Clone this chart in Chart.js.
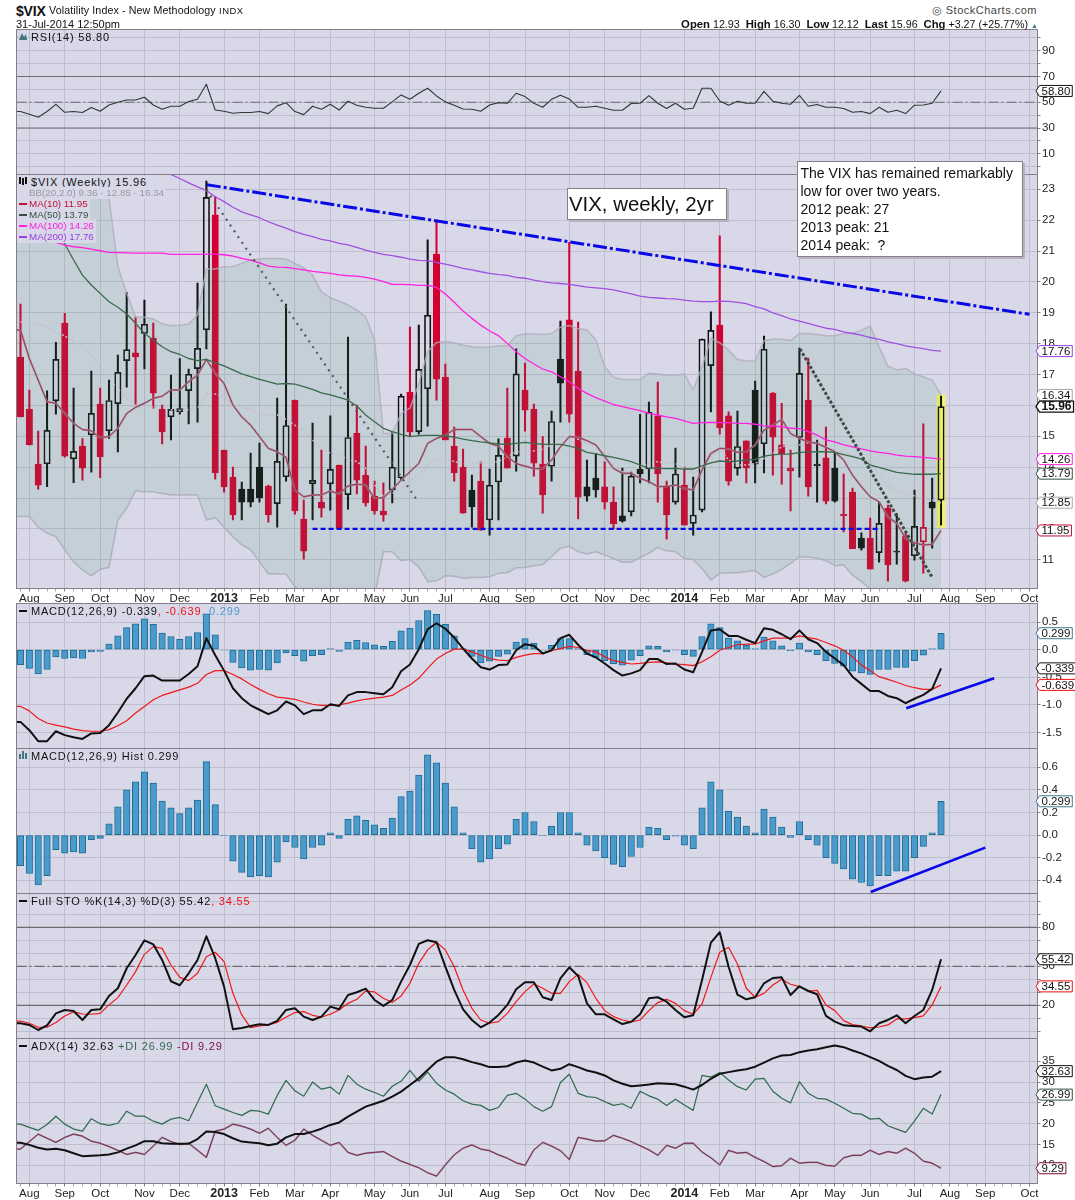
<!DOCTYPE html>
<html>
<head>
<meta charset="utf-8">
<title>$VIX weekly</title>
<script src="https://cdn.jsdelivr.net/npm/chart.js@4"></script>
<style>
html, body { margin: 0; padding: 0; background: #fff; }
#page { position: relative; width: 1075px; height: 1200px; overflow: hidden; font-family: "Liberation Sans", Arial, sans-serif; color: #111; }
canvas { position: absolute; left: 0; }
.txt { position: absolute; white-space: nowrap; font-size: 11px; letter-spacing: .8px; line-height: 12px; z-index: 5; }
.ma { font-size: 9.8px; letter-spacing: 0; background: #d8d8e8; padding-right: 2px; }
.sw { position: absolute; left: 19px; width: 8px; height: 2px; z-index: 6; }
.note { position: absolute; background: #fff; border: 1px solid #8a7c8a; box-shadow: 2px 2px 0 #b4b4c0; z-index: 6; box-sizing: border-box; }
</style>
</head>
<body>
<div id="page">
  <div class="txt" style="left:16px;top:3px;font-size:14px;line-height:16px;font-weight:bold;letter-spacing:-.2px">$VIX</div>
  <div class="txt" style="left:49px;top:4px;font-size:10.7px;line-height:13px;letter-spacing:.1px">Volatility Index - New Methodology</div>
  <div class="txt" style="left:219px;top:5px;font-size:9.5px;letter-spacing:.5px">INDX</div>
  <div class="txt" style="left:16px;top:18px;letter-spacing:0">31-Jul-2014 12:50pm</div>
  <div class="txt" style="right:38px;top:4px;color:#444;font-size:11px;letter-spacing:.5px">&#9678; StockCharts.com</div>
  <div class="txt" style="right:37px;top:18px;letter-spacing:0;font-size:10.7px"><b style="font-size:11.3px">Open</b> 12.93 &nbsp;<b style="font-size:11.3px">High</b> 16.30 &nbsp;<b style="font-size:11.3px">Low</b> 12.12 &nbsp;<b style="font-size:11.3px">Last</b> 15.96 &nbsp;<b style="font-size:11.3px">Chg</b> +3.27 (+25.77%) <span style="color:#3a7a8a;font-size:7px">&#9650;</span></div>

  <svg style="position:absolute;left:19px;top:31px;z-index:5" width="9" height="10"><path d="M0 9 L3 2 L5 6 L7 3 L8 9 Z" fill="#3f7780"/></svg>
  <div class="txt" style="left:31px;top:31px">RSI(14) 58.80</div>

  <svg style="position:absolute;left:19px;top:176px;z-index:6" width="9" height="10"><path d="M1 1V8M4 2V9M7 1V8" stroke="#111" stroke-width="2"/></svg>
  <div class="txt" style="left:17px;top:176px;background:#d8d8e8;padding-left:14px">$VIX (Weekly) 15.96</div>
  <div class="txt ma" style="left:17px;top:187px;color:#9a9aa4;padding-left:12px">BB(20,2.0) 9.36 - 12.85 - 16.34</div>
  <div class="sw" style="top:203px;background:#c4103a"></div>
  <div class="txt ma" style="left:17px;top:198px;color:#c4103a;padding-left:12px">MA(10) 11.95</div>
  <div class="sw" style="top:214px;background:#33503f"></div>
  <div class="txt ma" style="left:17px;top:209px;color:#33503f;padding-left:12px">MA(50) 13.79</div>
  <div class="sw" style="top:225px;background:#ff20e0"></div>
  <div class="txt ma" style="left:17px;top:220px;color:#ff20e0;padding-left:12px">MA(100) 14.26</div>
  <div class="sw" style="top:236px;background:#9a40e0"></div>
  <div class="txt ma" style="left:17px;top:231px;color:#9a40e0;padding-left:12px">MA(200) 17.76</div>

  <div class="sw" style="top:610px;background:#111"></div>
  <div class="txt" style="left:31px;top:605px">MACD(12,26,9) -0.339<span style="color:#f01010">, -0.639</span><span style="color:#4a9bcb">, 0.299</span></div>

  <svg style="position:absolute;left:19px;top:750px;z-index:5" width="9" height="10"><path d="M1 9V4M4 9V1M7 9V3" stroke="#3f7780" stroke-width="2"/></svg>
  <div class="txt" style="left:31px;top:750px">MACD(12,26,9) Hist 0.299</div>

  <div class="sw" style="top:900px;background:#111"></div>
  <div class="txt" style="left:31px;top:895px">Full STO %K(14,3) %D(3) 55.42<span style="color:#f01010">, 34.55</span></div>

  <div class="sw" style="top:1045px;background:#111"></div>
  <div class="txt" style="left:31px;top:1040px">ADX(14) 32.63 <span style="color:#2f6a4c">+DI 26.99</span> <span style="color:#7a0a3a">-DI 9.29</span></div>

  <div class="note" style="left:567px;top:188px;width:160px;height:32px;font-size:20.4px;line-height:30px;padding-left:1px">VIX, weekly, 2yr</div>
  <div class="note" style="left:797px;top:161px;width:226px;height:96px;font-size:14px;line-height:18px;padding:2px 0 0 2.5px">The VIX has remained remarkably<br>low for over two years.<br>2012 peak: 27<br>2013 peak: 21<br>2014 peak: &nbsp;?</div>
</div>

<script>
// x axis: one bar a week, month gridlines sit on these weeks
const monthTicks = [1, 5, 9, 14, 18, 23, 27, 31, 35, 40, 44, 48, 53, 57, 62, 66, 70, 75, 79, 83, 88, 92, 96, 101, 105, 109, 114];
const monthLabels = ['Aug', 'Sep', 'Oct', 'Nov', 'Dec', '2013', 'Feb', 'Mar', 'Apr', 'May', 'Jun', 'Jul', 'Aug', 'Sep', 'Oct', 'Nov', 'Dec', '2014', 'Feb', 'Mar', 'Apr', 'May', 'Jun', 'Jul', 'Aug', 'Sep', 'Oct'];

// candles
const wickHigh = [
  19.28, 16.50, 15.17, 16.47, 18.04, 18.98, 16.56, 14.93, 17.11, 16.56,
  16.82, 17.63, 19.66, 18.86, 19.41, 18.67, 16.01, 16.98, 17.52, 17.18,
  19.96, 23.27, 22.76, 14.55, 14.00, 13.52, 14.46, 14.78, 13.42, 16.24,
  19.28, 16.17, 12.93, 15.43, 14.55, 15.66, 14.07, 18.21, 16.01, 14.68,
  13.55, 13.49, 15.14, 16.37, 18.54, 18.60, 21.36, 22.00, 17.34, 15.30,
  14.59, 13.74, 14.17, 13.94, 14.92, 16.56, 17.83, 17.37, 16.04, 14.99,
  15.82, 18.73, 21.28, 18.70, 14.23, 14.44, 14.17, 13.36, 13.97, 13.84,
  15.71, 16.11, 16.76, 13.55, 14.62, 14.00, 13.68, 18.15, 19.03, 21.49,
  15.79, 15.82, 14.85, 16.79, 18.25, 16.42, 16.07, 14.55, 17.86, 17.53,
  14.88, 15.30, 14.49, 13.78, 13.32, 11.87, 12.35, 12.87, 12.77, 12.50,
  11.86, 13.26, 15.40, 13.65, 16.30
];
const wickLow = [
  15.63, 14.72, 13.29, 13.37, 15.72, 14.32, 13.50, 13.58, 13.84, 13.66,
  14.93, 14.49, 16.59, 16.04, 17.18, 15.91, 14.75, 14.88, 15.72, 15.40,
  15.46, 17.83, 13.61, 13.19, 12.29, 12.29, 12.71, 12.87, 12.22, 12.06,
  13.55, 12.48, 11.02, 12.29, 12.38, 12.61, 11.99, 12.64, 13.13, 12.74,
  12.48, 12.25, 12.84, 13.58, 15.01, 15.07, 15.33, 16.17, 14.88, 13.55,
  12.51, 12.06, 11.96, 11.80, 12.29, 13.97, 13.87, 15.17, 13.71, 12.51,
  13.55, 15.46, 15.46, 12.32, 12.90, 13.03, 12.64, 11.99, 12.22, 12.42,
  13.49, 13.49, 12.87, 11.67, 12.80, 12.12, 11.80, 12.55, 15.79, 15.07,
  13.42, 13.74, 13.49, 13.49, 13.81, 13.74, 13.45, 12.58, 13.68, 13.06,
  12.87, 12.81, 12.87, 11.90, 11.36, 11.31, 10.70, 10.92, 10.31, 10.86,
  10.28, 10.99, 10.57, 11.38, 12.12
];
const bodyTop = [
  17.57, 15.88, 14.10, 15.19, 17.49, 18.67, 14.51, 14.68, 15.74, 16.04,
  16.16, 17.07, 17.81, 17.70, 18.63, 18.18, 15.88, 15.87, 15.90, 17.01,
  17.85, 22.74, 22.17, 14.55, 13.68, 13.29, 13.29, 14.00, 13.39, 14.19,
  15.35, 16.17, 12.32, 13.57, 12.87, 13.93, 14.07, 14.96, 15.10, 13.74,
  13.06, 12.58, 14.00, 16.30, 16.43, 17.17, 18.92, 20.90, 16.92, 14.68,
  14.00, 13.26, 13.55, 13.42, 14.38, 14.94, 17.02, 16.50, 15.88, 14.10,
  15.48, 17.50, 18.77, 17.11, 13.36, 13.65, 13.36, 12.87, 12.42, 13.71,
  13.94, 15.78, 15.66, 13.39, 13.78, 13.42, 12.45, 18.15, 18.43, 18.60,
  15.66, 14.67, 14.85, 16.50, 17.82, 16.40, 14.72, 13.96, 17.04, 16.17,
  14.10, 14.30, 13.97, 12.47, 13.19, 11.70, 11.70, 12.18, 12.67, 11.28,
  11.77, 12.08, 12.05, 12.87, 15.96
];
const bodyBottom = [
  15.63, 14.72, 13.42, 14.11, 16.15, 14.36, 14.27, 13.97, 15.05, 14.33,
  15.18, 16.06, 17.45, 17.57, 18.33, 16.40, 15.14, 15.63, 15.80, 16.48,
  17.19, 18.45, 13.81, 13.36, 12.45, 12.87, 12.87, 13.00, 12.45, 12.82,
  13.69, 12.58, 11.28, 13.46, 12.67, 13.46, 12.02, 13.11, 13.58, 12.84,
  12.58, 12.45, 13.26, 13.65, 15.14, 15.15, 16.54, 16.85, 14.88, 13.81,
  12.51, 12.71, 11.96, 12.29, 13.52, 13.97, 14.36, 15.85, 14.13, 13.10,
  14.03, 16.72, 15.72, 13.03, 13.06, 13.26, 12.87, 12.16, 12.25, 12.55,
  13.78, 13.94, 13.78, 12.45, 12.87, 12.12, 12.18, 12.61, 17.29, 15.28,
  13.55, 13.96, 13.97, 14.10, 14.76, 14.97, 14.42, 13.88, 14.96, 13.36,
  14.05, 12.90, 12.90, 12.43, 11.36, 11.38, 10.70, 11.23, 10.83, 11.25,
  10.31, 11.13, 11.58, 12.67, 12.93
];
// r = down week, w = hollow up week, k = filled up week, h = hollow down week
const candleKind = ('rrrwwrwrwr' + 'wwwrwrrwww' + 'wwrrrkkkrw' + 'wrrwrwrwrr' + 'rrwwrwwrrr' +
  'rkrwwrwrrr' + 'wkrrkkrrkw' + 'kwrrwrwwwr' + 'rwrkwrrhwr' + 'krkrrkrwrk' + 'rwhkw').split('');
const highlightRange = [12.05, 16.34];

const bbUpper = [
  22.72, 22.72, 22.72, 22.72, 22.72, 22.72, 22.72, 22.72, 22.72, 22.72,
  22.72, 20.49, 19.63, 18.86, 18.86, 18.80, 18.64, 18.59, 18.59, 18.64,
  18.93, 20.42, 20.42, 20.49, 20.49, 20.60, 20.71, 20.75, 20.76, 20.76,
  20.74, 20.60, 20.46, 20.22, 19.68, 19.49, 19.38, 19.26, 19.09, 18.87,
  18.12, 15.09, 15.09, 15.74, 15.91, 16.71, 17.74, 18.04, 18.07, 18.03,
  17.95, 17.90, 17.88, 17.89, 17.93, 17.93, 18.26, 18.31, 18.31, 18.30,
  18.33, 18.53, 18.59, 18.48, 18.44, 18.12, 17.25, 16.91, 16.84, 16.84,
  16.84, 17.04, 17.02, 16.98, 16.98, 17.02, 16.50, 17.25, 18.17, 18.03,
  17.79, 17.49, 17.44, 17.44, 18.10, 18.14, 18.14, 18.10, 18.33, 18.33,
  18.30, 18.26, 18.26, 18.33, 18.33, 18.44, 18.57, 17.90, 17.27, 17.15,
  17.20, 17.02, 16.93, 16.82, 16.34
];
const bbLower = [
  12.40, 12.40, 12.05, 11.86, 11.75, 11.32, 10.94, 10.67, 10.48, 10.69,
  10.75, 12.29, 12.67, 13.24, 13.20, 13.20, 13.15, 13.10, 13.10, 13.10,
  13.10, 12.29, 12.36, 12.05, 11.75, 11.48, 11.32, 10.94, 10.54, 10.54,
  10.54, 10.13, 9.90, 9.80, 9.70, 9.70, 9.70, 9.70, 9.70, 9.70,
  9.80, 11.26, 11.26, 10.97, 11.01, 10.77, 10.29, 10.32, 10.48, 10.47,
  10.40, 10.43, 10.43, 10.45, 10.56, 10.58, 10.74, 10.75, 10.81, 10.85,
  11.10, 11.37, 11.44, 11.26, 11.19, 11.26, 11.15, 11.04, 10.92, 10.92,
  11.07, 11.21, 11.40, 11.29, 11.26, 11.04, 11.01, 10.72, 10.34, 10.56,
  10.58, 10.58, 10.62, 10.65, 10.43, 10.54, 10.69, 10.88, 11.10, 11.08,
  11.05, 10.97, 10.81, 10.83, 10.50, 10.29, 10.07, 9.90, 9.80, 9.70,
  9.60, 9.50, 9.45, 9.40, 9.36
];
const bbMiddle = [
  18.71, 18.66, 18.64, 18.55, 18.39, 18.25, 18.06, 17.90, 17.63, 17.25,
  16.88, 16.55, 16.23, 15.96, 15.90, 15.96, 15.96, 15.87, 15.83, 15.87,
  15.90, 16.37, 16.37, 16.28, 16.03, 15.94, 15.88, 15.72, 15.69, 15.69,
  15.55, 15.36, 15.18, 14.88, 14.61, 14.45, 14.39, 14.25, 14.18, 13.96,
  13.42, 13.06, 13.15, 13.28, 13.58, 13.74, 14.07, 14.23, 14.28, 14.18,
  14.12, 14.10, 14.14, 14.14, 14.18, 14.34, 14.50, 14.50, 14.53, 14.58,
  14.72, 14.93, 14.99, 14.90, 14.77, 14.66, 14.39, 14.07, 13.85, 13.91,
  14.01, 14.12, 14.18, 14.14, 14.12, 13.96, 13.80, 14.01, 14.34, 14.61,
  14.23, 14.07, 14.07, 14.12, 14.28, 14.45, 14.66, 14.72, 14.72, 14.79,
  14.77, 14.66, 14.55, 14.50, 14.39, 14.28, 14.18, 13.74, 13.42, 13.20,
  13.15, 13.07, 12.99, 12.94, 12.85
];
const ma10 = [
  18.44, 17.52, 16.82, 16.12, 16.07, 15.74, 15.42, 15.22, 15.18, 14.95,
  14.99, 15.26, 15.74, 15.94, 16.07, 16.23, 16.30, 16.50, 16.50, 16.77,
  16.98, 17.49, 17.04, 16.71, 16.01, 15.63, 15.36, 14.99, 14.61, 14.50,
  14.32, 13.26, 13.04, 13.10, 13.10, 13.23, 13.13, 13.39, 13.45, 13.42,
  12.99, 13.01, 13.28, 13.58, 13.85, 14.12, 14.77, 14.93, 15.04, 15.22,
  15.22, 15.22, 14.99, 14.77, 14.68, 14.34, 14.12, 14.03, 13.96, 13.95,
  14.23, 14.66, 14.99, 14.97, 14.86, 14.72, 14.34, 13.96, 13.80, 13.80,
  13.64, 13.53, 13.37, 13.37, 13.42, 13.31, 13.26, 13.91, 14.45, 14.61,
  14.59, 14.48, 14.50, 14.72, 15.20, 15.36, 15.55, 15.09, 14.93, 14.82,
  14.77, 14.64, 14.50, 14.23, 13.74, 13.37, 13.04, 12.88, 12.39, 12.18,
  11.69, 11.55, 11.48, 11.50, 11.95
];
const ma50 = [
  23.30, 22.98, 22.60, 22.22, 21.74, 21.23, 20.71, 20.22, 19.90, 19.63,
  19.36, 19.18, 18.96, 18.66, 18.33, 18.12, 17.90, 17.74, 17.65, 17.52,
  17.45, 17.49, 17.38, 17.28, 17.15, 17.02, 16.93, 16.84, 16.77, 16.69,
  16.71, 16.69, 16.61, 16.52, 16.41, 16.34, 16.26, 16.17, 15.98, 15.69,
  15.47, 15.26, 15.15, 15.06, 14.99, 15.02, 15.03, 15.03, 15.01, 14.97,
  14.91, 14.86, 14.82, 14.79, 14.75, 14.74, 14.77, 14.80, 14.77, 14.74,
  14.74, 14.74, 14.68, 14.61, 14.48, 14.43, 14.37, 14.32, 14.25, 14.18,
  14.07, 13.96, 13.96, 13.95, 13.96, 13.94, 13.94, 14.04, 14.14, 14.20,
  14.18, 14.20, 14.23, 14.25, 14.36, 14.40, 14.42, 14.42, 14.48, 14.49,
  14.50, 14.50, 14.48, 14.41, 14.34, 14.26, 14.07, 13.99, 13.91, 13.83,
  13.80, 13.77, 13.77, 13.77, 13.79
];
const ma100 = [
  21.57, 21.51, 21.44, 21.36, 21.28, 21.19, 21.14, 21.11, 21.06, 21.01,
  20.96, 20.95, 20.94, 20.93, 20.93, 20.93, 20.93, 20.89, 20.89, 20.89,
  20.89, 20.90, 20.90, 20.88, 20.84, 20.76, 20.71, 20.62, 20.51, 20.48,
  20.47, 20.43, 20.39, 20.34, 20.31, 20.28, 20.23, 20.20, 20.19, 20.15,
  20.09, 20.01, 19.92, 19.92, 19.91, 19.89, 19.89, 19.82, 19.61, 19.34,
  19.06, 18.82, 18.60, 18.41, 18.26, 18.01, 17.74, 17.52, 17.34, 17.18,
  17.09, 16.93, 16.77, 16.55, 16.39, 16.25, 16.14, 16.03, 15.96, 15.90,
  15.83, 15.74, 15.69, 15.63, 15.58, 15.50, 15.42, 15.44, 15.45, 15.44,
  15.44, 15.42, 15.42, 15.39, 15.34, 15.33, 15.31, 15.26, 15.25, 15.15,
  15.04, 14.88, 14.82, 14.72, 14.66, 14.59, 14.53, 14.48, 14.45, 14.39,
  14.36, 14.34, 14.32, 14.29, 14.26
];
const ma200 = [
  null, null, null, null, null, null, null, null, null, null,
  null, null, null, null, null, null, null, 23.48, 23.35, 23.21,
  23.08, 22.96, 22.76, 22.60, 22.42, 22.27, 22.17, 22.08, 21.95, 21.84,
  21.74, 21.63, 21.54, 21.47, 21.38, 21.33, 21.25, 21.20, 21.12, 21.03,
  20.96, 20.89, 20.85, 20.80, 20.74, 20.70, 20.69, 20.63, 20.58, 20.51,
  20.44, 20.39, 20.33, 20.28, 20.24, 20.21, 20.15, 20.12, 20.06, 20.01,
  19.97, 19.95, 19.92, 19.88, 19.83, 19.81, 19.78, 19.74, 19.68, 19.61,
  19.54, 19.50, 19.48, 19.46, 19.45, 19.41, 19.38, 19.36, 19.36, 19.38,
  19.37, 19.34, 19.30, 19.20, 19.13, 19.00, 18.91, 18.80, 18.73, 18.66,
  18.58, 18.50, 18.46, 18.38, 18.33, 18.28, 18.20, 18.14, 18.06, 18.00,
  17.93, 17.88, 17.84, 17.78, 17.76
];

const rsi = [
  42.8, 40.7, 38.4, 42.8, 48.4, 42.2, 42.8, 42.0, 45.9, 43.0,
  47.9, 50.0, 51.8, 51.8, 53.9, 47.9, 44.6, 46.9, 46.9, 50.5,
  52.3, 64.0, 44.0, 43.0, 41.5, 42.0, 42.0, 42.8, 41.2, 47.2,
  49.7, 42.8, 40.4, 46.9, 44.6, 48.4, 44.0, 50.8, 47.7, 46.1,
  45.3, 45.3, 50.3, 55.7, 52.3, 57.0, 60.9, 54.9, 50.3, 47.7,
  44.8, 44.6, 43.0, 47.9, 49.7, 49.2, 57.0, 54.4, 49.2, 46.1,
  52.3, 55.4, 52.6, 46.1, 46.1, 46.9, 45.3, 43.8, 43.8, 49.0,
  49.2, 55.2, 49.2, 45.1, 49.2, 44.6, 45.3, 60.9, 60.9, 51.0,
  47.7, 50.8, 49.2, 49.2, 58.5, 50.8, 49.2, 48.4, 55.4, 46.9,
  48.2, 46.1, 46.1, 45.1, 42.2, 42.8, 41.2, 46.1, 42.2, 43.8,
  41.2, 47.7, 47.9, 49.2, 58.80
];

const macdLine = [
  -1.31, -1.46, -1.66, -1.66, -1.48, -1.55, -1.59, -1.62, -1.52, -1.51,
  -1.37, -1.14, -0.89, -0.70, -0.48, -0.47, -0.56, -0.56, -0.56, -0.44,
  -0.30, 0.21, -0.10, -0.38, -0.70, -0.88, -1.01, -1.09, -1.17, -1.10,
  -0.94, -1.01, -1.17, -1.10, -1.10, -0.99, -1.02, -0.83, -0.77, -0.77,
  -0.79, -0.81, -0.68, -0.39, -0.27, 0.01, 0.37, 0.48, 0.38, 0.22,
  0.02, -0.16, -0.32, -0.36, -0.28, -0.27, -0.01, 0.10, 0.07, -0.07,
  -0.01, 0.21, 0.27, 0.09, -0.07, -0.14, -0.25, -0.37, -0.47, -0.43,
  -0.37, -0.17, -0.17, -0.26, -0.25, -0.36, -0.41, -0.04, 0.35, 0.37,
  0.25, 0.25, 0.18, 0.12, 0.39, 0.36, 0.28, 0.19, 0.35, 0.19,
  0.12, -0.04, -0.16, -0.28, -0.49, -0.62, -0.75, -0.75, -0.84, -0.88,
  -0.97, -0.89, -0.82, -0.71, -0.339
];
const macdSignal = [
  -1.03, -1.11, -1.25, -1.33, -1.37, -1.40, -1.44, -1.47, -1.48, -1.48,
  -1.45, -1.38, -1.29, -1.15, -1.03, -0.91, -0.83, -0.78, -0.73, -0.68,
  -0.61, -0.45, -0.38, -0.38, -0.45, -0.53, -0.63, -0.72, -0.80, -0.86,
  -0.88, -0.90, -0.95, -0.99, -1.01, -1.01, -1.00, -0.97, -0.93, -0.90,
  -0.88, -0.86, -0.83, -0.73, -0.64, -0.52, -0.34, -0.17, -0.07, 0.01,
  0.01, -0.04, -0.10, -0.16, -0.19, -0.20, -0.14, -0.10, -0.07, -0.07,
  -0.02, 0.02, 0.06, 0.04, -0.01, -0.04, -0.13, -0.20, -0.23, -0.26,
  -0.25, -0.23, -0.22, -0.24, -0.26, -0.27, -0.29, -0.22, -0.13, -0.01,
  0.04, 0.09, 0.10, 0.10, 0.16, 0.21, 0.21, 0.21, 0.25, 0.22,
  0.19, 0.13, 0.07, -0.01, -0.13, -0.28, -0.38, -0.49, -0.54, -0.59,
  -0.65, -0.69, -0.72, -0.72, -0.639
];
const macdHist = [
  -0.27, -0.34, -0.44, -0.36, -0.13, -0.16, -0.15, -0.16, -0.04, -0.03,
  0.10, 0.25, 0.40, 0.47, 0.56, 0.46, 0.30, 0.24, 0.19, 0.24,
  0.31, 0.65, 0.27, -0.005, -0.23, -0.33, -0.37, -0.36, -0.37, -0.24,
  -0.06, -0.11, -0.21, -0.11, -0.09, 0.02, -0.03, 0.14, 0.17, 0.13,
  0.09, 0.06, 0.15, 0.34, 0.39, 0.53, 0.71, 0.64, 0.46, 0.25,
  0.02, -0.12, -0.24, -0.21, -0.12, -0.08, 0.14, 0.20, 0.12, -0.005,
  0.08, 0.20, 0.20, 0.02, -0.09, -0.14, -0.20, -0.26, -0.28, -0.19,
  -0.11, 0.07, 0.06, -0.04, -0.01, -0.09, -0.12, 0.24, 0.47, 0.40,
  0.21, 0.16, 0.08, 0.02, 0.23, 0.16, 0.07, -0.02, 0.12, -0.04,
  -0.09, -0.20, -0.25, -0.30, -0.39, -0.42, -0.45, -0.36, -0.36, -0.32,
  -0.32, -0.20, -0.10, 0.02, 0.299
];

const stoK = [
  6.2, 4.9, 1.0, 4.6, 13.8, 16.4, 15.6, 8.7, 16.4, 16.9,
  27.2, 33.1, 48.5, 58.7, 70.0, 66.9, 54.9, 38.5, 35.4, 44.6,
  54.9, 73.1, 56.2, 34.4, 1.5, 2.6, 4.1, 5.4, 4.9, 8.0,
  16.4, 17.7, 11.3, 8.7, 11.3, 19.0, 16.9, 27.9, 30.0, 32.8,
  24.1, 19.5, 24.1, 38.2, 51.0, 67.2, 70.0, 68.5, 49.7, 31.8,
  16.9, 8.7, 3.1, 6.7, 12.6, 20.3, 32.3, 37.7, 37.7, 26.2,
  24.1, 40.8, 49.2, 42.6, 21.5, 13.1, 13.1, 9.2, 5.6, 7.4,
  13.1, 25.4, 26.2, 22.8, 16.4, 10.8, 12.3, 39.5, 68.2, 76.2,
  49.7, 28.2, 24.6, 26.2, 36.9, 41.0, 41.5, 27.9, 34.6, 31.0,
  28.5, 11.8, 7.4, 4.6, 4.1, 3.6, 0.0, 6.2, 8.7, 12.3,
  6.2, 11.8, 16.4, 31.8, 55.42
];
const stoD = [
  7.9, 6.2, 3.1, 3.1, 6.7, 11.8, 15.1, 13.3, 13.1, 13.8,
  20.3, 25.9, 35.6, 45.9, 59.2, 65.1, 63.8, 51.0, 41.5, 39.0,
  44.6, 57.4, 60.8, 53.6, 29.2, 12.6, 2.8, 4.1, 4.9, 6.9,
  10.8, 14.4, 15.1, 12.3, 11.0, 13.1, 16.4, 21.5, 24.6, 31.0,
  30.3, 25.4, 22.1, 27.2, 36.9, 52.3, 62.6, 68.5, 62.6, 49.7,
  31.8, 17.7, 8.7, 6.2, 7.4, 13.8, 22.8, 30.5, 36.4, 33.1,
  29.2, 29.2, 38.2, 43.8, 37.4, 25.4, 15.9, 11.3, 8.7, 7.2,
  8.7, 15.9, 22.1, 24.6, 21.5, 15.9, 13.1, 21.0, 41.5, 60.8,
  64.6, 51.8, 33.1, 26.2, 29.2, 35.6, 40.0, 36.2, 34.4, 31.0,
  31.5, 20.3, 15.9, 8.2, 5.1, 4.1, 2.6, 3.3, 4.9, 9.5,
  9.5, 10.5, 11.8, 20.3, 34.55
];

const adx = [
  15.4, 14.9, 14.2, 13.8, 14.0, 13.6, 12.9, 12.2, 12.3, 12.4,
  12.6, 13.1, 14.0, 14.8, 15.8, 15.8, 15.3, 15.2, 15.2, 15.2,
  16.3, 18.1, 18.0, 17.5, 16.5, 15.7, 15.5, 15.3, 14.8, 15.2,
  16.7, 17.5, 17.5, 18.1, 18.8, 19.7, 20.3, 21.7, 22.9, 24.1,
  24.8, 25.5, 26.5, 27.7, 29.3, 30.9, 32.9, 34.9, 36.0, 36.0,
  35.5, 34.8, 34.3, 33.6, 33.6, 33.8, 34.7, 35.2, 34.7, 33.7,
  32.8, 33.2, 34.3, 33.6, 32.8, 32.3, 31.6, 30.4, 29.6, 29.0,
  29.2, 29.4, 29.7, 29.6, 29.5, 28.9, 28.2, 29.3, 30.8, 32.0,
  32.4, 32.8, 33.1, 33.7, 34.7, 35.7, 36.4, 36.5, 37.2, 37.6,
  37.9, 38.4, 38.8, 38.4, 37.6, 36.9, 36.0, 35.1, 33.9, 32.9,
  31.5, 30.7, 31.1, 31.3, 32.63
];
const plusDI = [
  19.9, 19.1, 18.4, 19.8, 21.8, 19.9, 18.7, 18.2, 21.2, 20.0,
  19.6, 20.1, 23.0, 21.8, 21.8, 20.6, 19.9, 21.1, 21.5, 20.7,
  25.1, 29.5, 24.3, 23.5, 22.7, 22.0, 23.2, 23.0, 22.3, 26.8,
  30.4, 27.9, 26.6, 30.0, 28.3, 28.8, 27.1, 31.6, 29.5, 28.3,
  27.5, 26.6, 29.0, 30.2, 32.8, 30.2, 32.4, 29.7, 28.1, 27.1,
  25.5, 24.7, 24.4, 23.2, 23.9, 26.8, 27.3, 25.9, 24.1, 23.0,
  24.1, 29.9, 31.9, 27.3, 26.5, 26.3, 25.3, 24.4, 24.8, 23.7,
  27.8, 26.7, 25.9, 24.4, 25.9, 24.5, 23.2, 31.6, 31.2, 32.3,
  30.5, 28.9, 28.1, 30.7, 30.9, 27.8, 26.1, 25.0, 30.1, 27.3,
  26.1, 25.9, 24.9, 23.7, 22.5, 22.3, 21.1, 21.3, 19.5, 18.7,
  17.9, 20.6, 23.7, 22.3, 26.99
];
const minusDI = [
  13.9, 15.7, 17.5, 16.5, 15.5, 16.7, 17.5, 17.0, 15.8, 15.3,
  14.5, 13.6, 12.6, 13.1, 12.6, 14.6, 16.7, 15.7, 15.0, 15.3,
  13.6, 11.9, 18.2, 18.7, 19.9, 19.4, 18.7, 17.7, 18.9, 16.7,
  14.8, 16.0, 18.7, 17.2, 16.0, 14.8, 15.5, 13.1, 12.4, 12.9,
  13.1, 13.3, 12.1, 11.0, 10.2, 9.4, 8.2, 7.4, 10.1, 12.5,
  14.1, 14.9, 13.9, 13.5, 12.5, 11.7, 10.6, 10.0, 13.7, 15.5,
  14.6, 13.5, 11.4, 16.7, 16.3, 15.8, 15.9, 17.2, 16.5, 15.7,
  14.7, 13.7, 12.4, 14.8, 14.1, 15.3, 15.3, 13.2, 11.8, 10.1,
  13.6, 12.9, 13.1, 11.9, 10.9, 9.7, 9.9, 11.7, 10.5, 10.7,
  10.7, 10.0, 9.8, 11.8, 12.4, 12.4, 13.6, 12.6, 13.3, 12.9,
  14.1, 12.9, 11.0, 10.5, 9.29
];

// drawn trend lines: [week, value] at both ends
const vixDownTrend = [[21.05, 23.15], [114, 18.95]];
const vixSupport = [[33, 12.0], [97, 12.0]];
const vixDotted = [[21, 22.98], [44.66, 12.99]];
const vixDashed = [[88.07, 17.83], [103, 10.43]];
const macdTrend = [[100.07, -1.064], [110, -0.52]];
const histTrend = [[96.06, -0.504], [109, -0.111]];

const PANEL_BG = 'rgb(216,216,232)';
const FRAME = 'rgb(136,124,136)';
const GRID = 'rgb(190,190,206)';
const LEVEL = 'rgb(110,106,112)';
const RED = '#d20030';
const X_MIN = -0.452, X_MAX = 114.9;
const allWeeks = [];
for (let w = 0; w <= 114; w++) allWeeks.push(w);

function series(values) {
    return values.map((v, i) => ({ x: i, y: v }));
}

// indicator lines run on to the left edge of the panel
function lineSeries(values) {
    const pts = series(values);
    if (values.length && values[0] !== null) pts.unshift({ x: X_MIN, y: values[0] });
    return pts;
}

function line(values, color, width, order, extra) {
    return Object.assign({
        type: 'line', data: lineSeries(values), borderColor: color, borderWidth: width,
        pointRadius: 0, tension: 0, fill: false, order: order, borderJoinStyle: 'round'
    }, extra || {});
}

function segment(ends, color, width, dash, order) {
    return line([], color, width, order, {
        data: ends.map(p => ({ x: p[0], y: p[1] })), borderDash: dash
    });
}

function level(value, dash) {
    return segment([[X_MIN, value], [X_MAX, value]], LEVEL, 1.2, dash, 40);
}

function bars(points, thickness, fill, stroke, borderWidth, order) {
    return {
        type: 'bar', data: points, barThickness: thickness, backgroundColor: fill,
        borderColor: stroke, borderWidth: borderWidth, borderSkipped: false, order: order, grouped: false
    };
}

function histBars(order) {
    return bars(series(macdHist), 6.5, '#4a9bcb', '#1e6e94', 1, order);
}

function candleDatasets() {
    const upper = wickHigh.map((v, i) => ({ x: i, y: [bodyTop[i], v] }));
    const lower = wickLow.map((v, i) => ({ x: i, y: [v, bodyBottom[i]] }));
    const bodies = bodyTop.map((v, i) => ({ x: i, y: [bodyBottom[i], v] }));
    const wickColor = candleKind.map(k => (k === 'r' || k === 'h') ? RED : '#111');
    const bodyFill = candleKind.map(k => k === 'r' ? RED : k === 'k' ? '#111' : 'rgba(0,0,0,0)');
    return [
        bars(upper, 1.4, wickColor, wickColor, 0, 30),
        bars(lower, 1.4, wickColor, wickColor, 0, 30),
        bars(bodies, 6.4, bodyFill, wickColor, 1, 29)
    ];
}

function drawTag(ctx, area, scale, tag) {
    const y = scale.getPixelForValue(tag.value);
    ctx.save();
    ctx.font = (tag.bold ? 'bold 12px' : '11.5px') + ' "Liberation Sans", Arial, sans-serif';
    const w = ctx.measureText(tag.text).width + 4;
    const left = area.right - 1.5, tip = 3.5, h = 5.5;
    ctx.beginPath();
    ctx.moveTo(left, y);
    ctx.lineTo(left + tip, y - h);
    ctx.lineTo(left + tip + w, y - h);
    ctx.lineTo(left + tip + w, y + h);
    ctx.lineTo(left + tip, y + h);
    ctx.closePath();
    ctx.fillStyle = '#fff';
    ctx.fill();
    ctx.lineWidth = tag.bold ? 1.3 : 1;
    ctx.strokeStyle = tag.color;
    ctx.stroke();
    ctx.fillStyle = '#111';
    ctx.textBaseline = 'middle';
    ctx.textAlign = 'left';
    ctx.fillText(tag.text, left + tip + 2, y + 0.5);
    ctx.restore();
}

const panelFrame = {
    id: 'panelFrame',
    beforeDraw(chart) {
        const a = chart.chartArea;
        chart.ctx.save();
        chart.ctx.fillStyle = PANEL_BG;
        chart.ctx.fillRect(a.left, a.top, a.right - a.left, a.bottom - a.top);
        chart.ctx.restore();
    },
    afterDraw(chart) {
        const a = chart.chartArea;
        const ctx = chart.ctx;
        ctx.save();
        ctx.strokeStyle = FRAME;
        ctx.lineWidth = 1;
        ctx.strokeRect(a.left, a.top, a.right - a.left, a.bottom - a.top);
        ctx.restore();
        (chart.options.plugins.panelFrame.tags || []).forEach(t => drawTag(ctx, a, chart.scales.y, t));
    }
};
Chart.register(panelFrame);

function isMonth(c) {
    return !!c.tick && monthTicks.includes(c.tick.value);
}

function makePanel(p) {
    const canvas = document.createElement('canvas');
    const canvasTop = Math.floor(p.top) - 1;
    const bottomSpace = p.axis ? 17 : 2;
    const height = Math.ceil(p.bottom) - canvasTop + bottomSpace;
    canvas.width = 1075;
    canvas.height = height;
    canvas.style.top = canvasTop + 'px';
    canvas.style.zIndex = p.z;
    document.getElementById('page').appendChild(canvas);

    return new Chart(canvas.getContext('2d'), {
        data: { datasets: p.datasets },
        options: {
            responsive: false,
            animation: false,
            devicePixelRatio: 1,
            layout: { padding: { left: 16.5, right: 0, top: p.top - canvasTop, bottom: height - (p.bottom - canvasTop) - (p.axis ? 16 : 0) } },
            plugins: { legend: { display: false }, tooltip: { enabled: false }, panelFrame: { tags: p.tags } },
            scales: {
                x: {
                    type: 'linear', min: X_MIN, max: X_MAX, offset: false,
                    afterBuildTicks: s => { s.ticks = (p.axis ? allWeeks : monthTicks).map(v => ({ value: v })); },
                    afterFit: s => { s.height = p.axis ? 16 : 0; s.paddingLeft = 0; s.paddingRight = 0; },
                    grid: {
                        offset: false, drawTicks: !!p.axis, tickLength: 3,
                        color: c => isMonth(c) ? GRID : 'rgba(0,0,0,0)',
                        tickColor: c => isMonth(c) ? FRAME : 'rgb(170,165,175)'
                    },
                    border: { display: false },
                    ticks: {
                        display: !!p.axis, autoSkip: false, maxRotation: 0, padding: 0, color: '#222',
                        font: c => (c.tick && /^20/.test(monthLabels[monthTicks.indexOf(c.tick.value)] || ''))
                            ? { family: '"Liberation Sans", Arial, sans-serif', size: 12.5, weight: 'bold' }
                            : { family: '"Liberation Sans", Arial, sans-serif', size: 11.5 },
                        callback: v => { const k = monthTicks.indexOf(v); return k < 0 ? '' : monthLabels[k]; }
                    }
                },
                y: {
                    type: 'linear', position: 'right', min: p.yMin, max: p.yMax,
                    afterBuildTicks: s => { s.ticks = p.gridValues.map(v => ({ value: v })); },
                    afterFit: s => { s.width = 37.5; s.paddingTop = 0; s.paddingBottom = 0; },
                    grid: { color: GRID, tickColor: FRAME, tickLength: 3 },
                    border: { display: false },
                    ticks: {
                        padding: 1.5, color: '#222', autoSkip: false, align: 'center',
                        font: { family: '"Liberation Sans", Arial, sans-serif', size: 11.5 },
                        callback: p.tickLabel
                    }
                }
            }
        }
    });
}

// shown on the axis only where the picture labels it
const rsiGrid = [0, 10, 20, 30, 40, 50, 60, 70, 80, 90, 100];
const rsiLabelled = [90, 70, 50, 30, 10];
const vixGrid = [11, 12, 13, 14, 15, 16, 17, 18, 19, 20, 21, 22, 23];
const macdGrid = [0.5, 0, -0.5, -1, -1.5];
const histGrid = [0.6, 0.4, 0.2, 0, -0.2, -0.4];
const stoGrid = [0, 10, 20, 30, 40, 50, 60, 70, 80, 90, 100];
const stoLabelled = [80, 50, 20];
const adxGrid = [35, 30, 25, 20, 15, 10];

makePanel({
    top: 29.5, bottom: 174.5, yMin: -6.1, yMax: 106.5, z: 1, gridValues: rsiGrid,
    tickLabel: v => rsiLabelled.includes(v) ? String(v) : '',
    tags: [{ value: 58.80, text: '58.80', color: '#111' }],
    datasets: [level(70, []), level(30, []), level(50, [10, 3, 2, 3]), line(rsi, '#2a3a34', 1.1, 10)]
});

makePanel({
    top: 174.5, bottom: 588.5, yMin: 10.07, yMax: 23.48, z: 2, axis: true, gridValues: vixGrid,
    tickLabel: v => String(v),
    tags: [
        { value: 17.76, text: '17.76', color: '#9a40e0' },
        { value: 16.34, text: '16.34', color: '#a8a8a8' },
        { value: 15.96, text: '15.96', color: '#111', bold: true },
        { value: 14.26, text: '14.26', color: '#ff20e0' },
        { value: 13.79, text: '13.79', color: '#33503f' },
        { value: 12.85, text: '12.85', color: '#a8a8a8' },
        { value: 11.95, text: '11.95', color: '#c4103a' }
    ],
    datasets: [
        // the band lies over the candles and dulls them a little
        line(bbUpper, 'rgba(176,172,186,.8)', 1.5, 25, { fill: '+1', backgroundColor: 'rgba(66,149,99,.12)' }),
        line(bbLower, 'rgba(176,172,186,.8)', 1.5, 25),
        line(bbMiddle, 'rgb(196,190,202)', 1.5, 24, { borderDash: [2, 2] }),
        bars([{ x: 104, y: highlightRange }], 8, '#f8f466', '#f8f466', 0, 50),
        ...candleDatasets(),
        line(ma10, 'rgba(150,140,150,.9)', 2, 12),
        line(ma10, '#b01840', 0.8, 11),
        line(ma50, '#3a6a4c', 1.3, 10),
        line(ma100, '#ff20e0', 1.3, 9),
        line(ma200, '#a050e0', 1.3, 8),
        segment(vixDotted, '#555a58', 2.2, [2, 5], 4),
        segment(vixDashed, '#3e4a44', 3, [3, 2], 3),
        segment(vixSupport, '#0808e8', 2.4, [5, 3], 2),
        segment(vixDownTrend, '#0808e8', 3, [14, 3, 3, 3], 1)
    ]
});

makePanel({
    top: 603.5, bottom: 748.5, yMin: -1.793, yMax: 0.838, z: 3, gridValues: macdGrid,
    tickLabel: v => v.toFixed(1),
    tags: [
        { value: 0.299, text: '0.299', color: '#3a7a8a' },
        { value: -0.339, text: '-0.339', color: '#111' },
        { value: -0.639, text: '-0.639', color: '#f01010' }
    ],
    datasets: [
        histBars(20),
        line(macdSignal, '#f01818', 1.2, 6),
        line(macdLine, '#111', 2, 5),
        segment(macdTrend, '#0808e8', 2.6, [], 1)
    ]
});

makePanel({
    top: 748.5, bottom: 893.5, yMin: -0.517, yMax: 0.766, z: 4, gridValues: histGrid,
    tickLabel: v => v.toFixed(1),
    tags: [{ value: 0.299, text: '0.299', color: '#3a7a8a' }],
    datasets: [histBars(20), segment(histTrend, '#0808e8', 2.6, [], 1)]
});

makePanel({
    top: 893.5, bottom: 1038.5, yMin: -5.54, yMax: 106, z: 3, gridValues: stoGrid,
    tickLabel: v => stoLabelled.includes(v) ? String(v) : '',
    tags: [
        { value: 55.42, text: '55.42', color: '#111' },
        { value: 34.55, text: '34.55', color: '#f01010' }
    ],
    datasets: [
        level(80, []), level(20, []), level(50, [10, 3, 2, 3]),
        line(stoD, '#f01818', 1.2, 6),
        line(stoK, '#111', 2, 5)
    ]
});

makePanel({
    top: 1038.5, bottom: 1183.5, yMin: 5.62, yMax: 40.48, z: 2, axis: true, gridValues: adxGrid,
    tickLabel: v => String(v),
    tags: [
        { value: 32.63, text: '32.63', color: '#111' },
        { value: 26.99, text: '26.99', color: '#33503f' },
        { value: 9.29, text: '9.29', color: '#7a0a3a' }
    ],
    datasets: [
        line(minusDI, 'rgba(150,140,150,.9)', 1.8, 12),
        line(minusDI, '#7a0a3a', 0.8, 11),
        line(plusDI, '#2f6a4c', 1.2, 10),
        line(adx, '#111', 2, 5)
    ]
});
</script>
</body>
</html>
